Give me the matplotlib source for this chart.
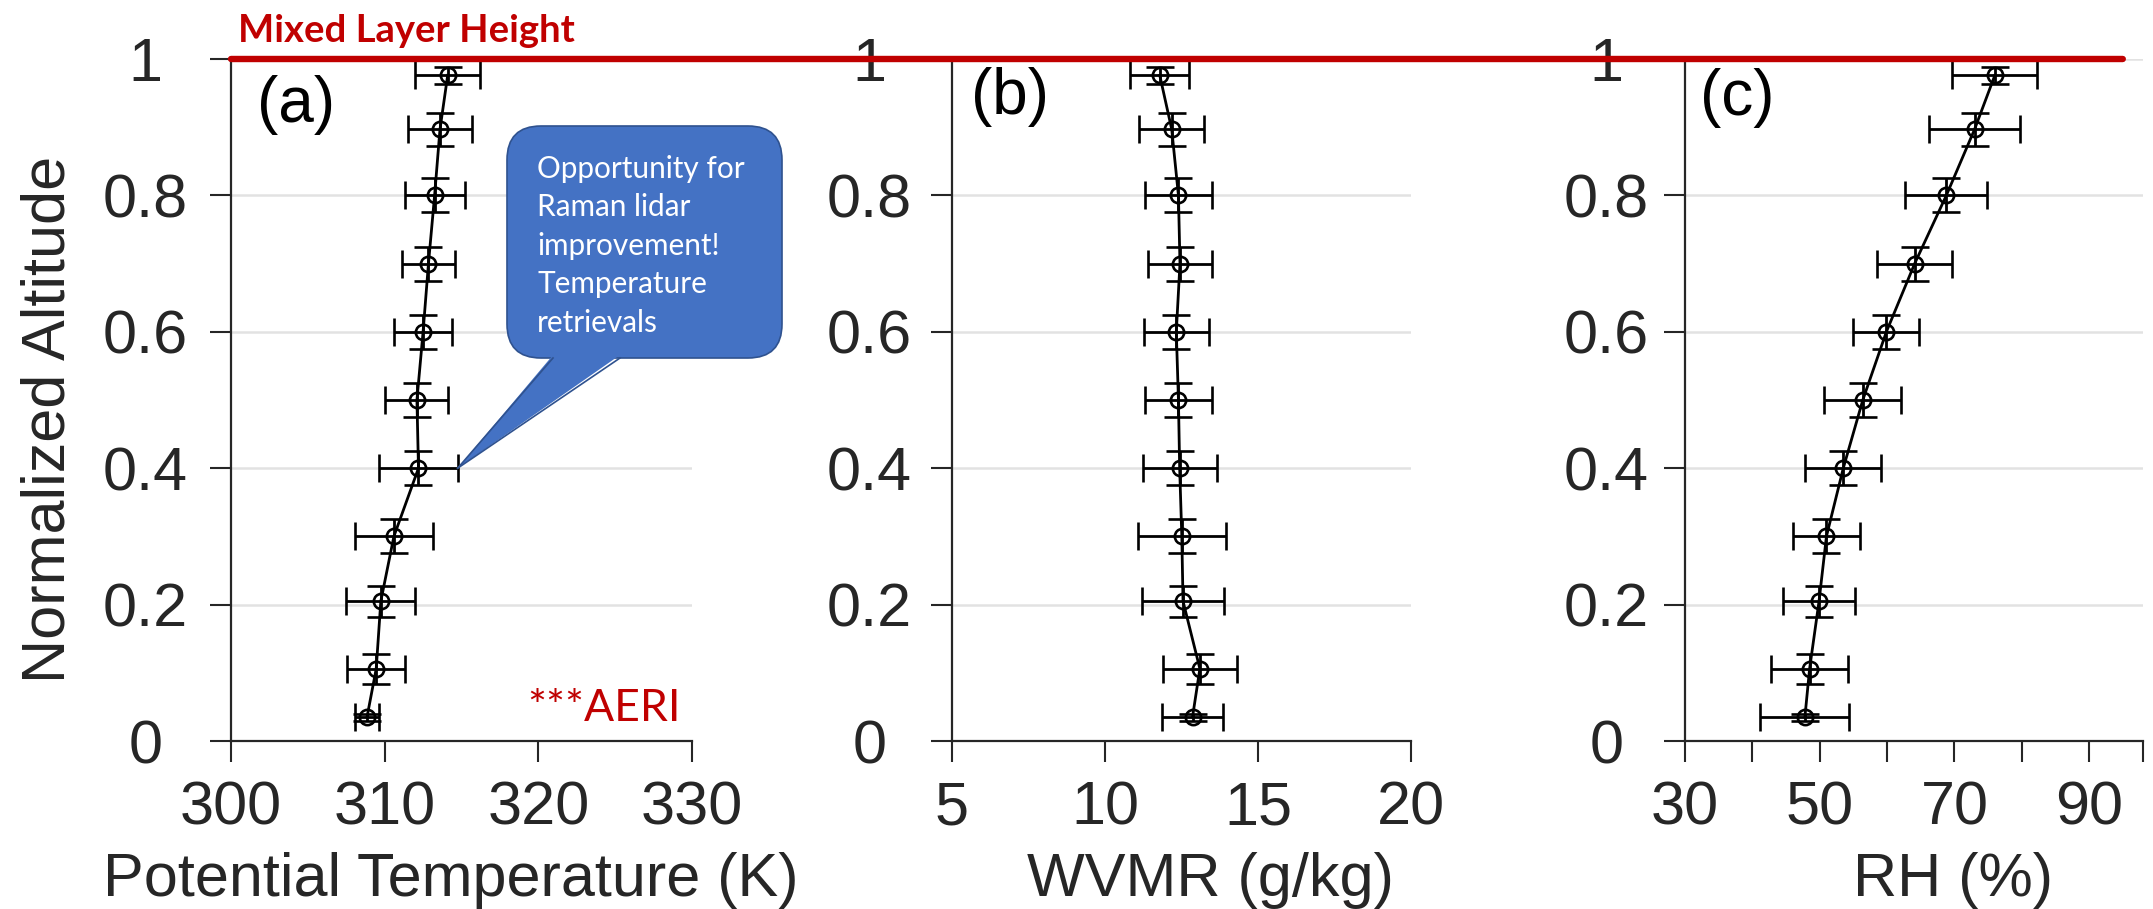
import matplotlib
matplotlib.use("Agg")
import matplotlib.pyplot as plt
from matplotlib.patches import FancyBboxPatch, Polygon, ConnectionPatch
from matplotlib.lines import Line2D
from matplotlib.transforms import IdentityTransform

# Data, bottom to top
altitude = [0.035, 0.106, 0.205, 0.30, 0.40, 0.50, 0.60, 0.70, 0.80, 0.897, 0.976]
alt_err = [0.005, 0.022, 0.023, 0.025, 0.025, 0.025, 0.025, 0.025, 0.025, 0.024, 0.013]

theta = [308.85, 309.45, 309.75, 310.6, 312.2, 312.1, 312.5, 312.85, 313.25, 313.6, 314.1]
theta_err = [0.8, 1.9, 2.25, 2.55, 2.55, 2.05, 1.9, 1.7, 1.95, 2.1, 2.1]

wvmr = [12.86, 13.1, 12.55, 12.51, 12.44, 12.4, 12.33, 12.45, 12.4, 12.18, 11.79]
wvmr_err = [1.0, 1.22, 1.35, 1.43, 1.21, 1.1, 1.06, 1.04, 1.1, 1.07, 0.97]

rh = [47.8, 48.5, 49.9, 51.0, 53.5, 56.4, 59.9, 64.1, 68.8, 73.0, 76.0]
rh_err = [6.6, 5.7, 5.3, 5.0, 5.65, 5.7, 4.9, 5.55, 6.1, 6.75, 6.3]

yticks = [0, 0.2, 0.4, 0.6, 0.8, 1.0]
yticklabels = ['0', '0.2', '0.4', '0.6', '0.8', '1']

callout_lines = ['Opportunity for', 'Raman lidar', 'improvement!', 'Temperature', 'retrievals']

W, H = 2153, 909
RED = '#C00000'
DARK = '#262626'

plt.rcParams['font.family'] = ['Liberation Sans', 'DejaVu Sans']

fig = plt.figure(figsize=(W / 100, H / 100), dpi=100)

panels = [
    dict(x=theta, xerr=theta_err, xlim=(300, 330), xticks=[300, 310, 320, 330],
         xticklabels=['300', '310', '320', '330'], xlabel='Potential Temperature (K)',
         left=231, right=692, tag='(a)', tag_pos=(257, 75), label_x=451, ypad=65),
    dict(x=wvmr, xerr=wvmr_err, xlim=(5, 20), xticks=[5, 10, 15, 20],
         xticklabels=['5', '10', '15', '20'], xlabel='WVMR (g/kg)',
         left=952, right=1411, tag='(b)', tag_pos=(971, 67), label_x=1210, ypad=62),
    dict(x=rh, xerr=rh_err, xlim=(30, 98), xticks=[30, 40, 50, 60, 70, 80, 90, 98],
         xticklabels=['30', '', '50', '', '70', '', '90', ''], xlabel='RH (%)',
         left=1685, right=2143, tag='(c)', tag_pos=(1700, 68), label_x=1953, ypad=58),
]

top, bottom = 59, 741
axes = []
for p in panels:
    w = p['right'] - p['left']
    ax = fig.add_axes([p['left'] / W, (H - bottom) / H, w / W, (bottom - top) / H])
    ax.errorbar(p['x'], altitude, xerr=p['xerr'], yerr=alt_err, fmt='-o', color='black',
                mfc='none', ms=11, mew=1.9, lw=2.0, elinewidth=2.0, capsize=10,
                capthick=2.2, clip_on=False, zorder=3)
    ax.set_xlim(*p['xlim'])
    ax.set_ylim(0, 1)
    ax.set_xticks(p['xticks'])
    ax.set_xticklabels(p['xticklabels'])
    ax.set_yticks(yticks)
    ax.set_yticklabels(yticklabels)
    ax.yaxis.grid(True, color='#e2e2e2', lw=1.8)
    ax.set_axisbelow(True)
    for s in ['top', 'right']:
        ax.spines[s].set_visible(False)
    for s in ['left', 'bottom']:
        ax.spines[s].set_color(DARK)
        ax.spines[s].set_linewidth(1.6)
    ax.tick_params(direction='out', length=15, width=1.5, color=DARK,
                   labelcolor=DARK, labelsize=44)
    ax.tick_params(axis='x', pad=13.5)
    ax.tick_params(axis='y', pad=p['ypad'] * 0.72)
    plt.setp(ax.get_yticklabels(), ha='center')
    ax.set_xlabel(p['xlabel'], fontsize=44, color=DARK)
    ax.xaxis.set_label_coords((p['label_x'] - p['left']) / w, -(852 - bottom) / (bottom - top))
    fig.text(p['tag_pos'][0], H - p['tag_pos'][1], p['tag'], fontsize=46, color='black',
             ha='left', va='top', transform=IdentityTransform())
    axes.append(ax)

ax_a, ax_b, ax_c = axes

fig.text(49, H - 419, 'Normalized Altitude', fontsize=44, color=DARK, rotation=90,
         ha='center', va='center', transform=IdentityTransform())

# mixed layer height line
con = ConnectionPatch(xyA=(300, 1), coordsA=ax_a.transData, xyB=(95, 1), coordsB=ax_c.transData,
                      color=RED, lw=4.6, zorder=5)
fig.add_artist(con)
fig.text(238, H - 42, 'Mixed Layer Height', fontsize=27.5, fontweight='bold', color=RED,
         family='Lato', ha='left', va='baseline', transform=IdentityTransform())

# AERI note
ax_a.text(0.976, 0.029, '***AERI', transform=ax_a.transAxes, fontsize=32, color=RED,
          family='Lato', ha='right', va='baseline')

# callout bubble
bx0, bx1, by_top, by_bot = 507, 782, 126, 358
fill, edge = '#4472C4', '#2F528F'
bubble = FancyBboxPatch((bx0, H - by_bot), bx1 - bx0, by_bot - by_top,
                        boxstyle='round,pad=0,rounding_size=34', transform=IdentityTransform(),
                        facecolor=fill, edgecolor=edge, lw=1.2, zorder=6)
fig.add_artist(bubble)
tip = ax_a.transData.transform((theta[4] + theta_err[4], altitude[4]))
base_l, base_r = (553, H - by_bot), (620, H - by_bot)
pointer = Polygon([(base_l[0], base_l[1] + 3), tuple(tip), (base_r[0], base_r[1] + 3)],
                  closed=True, facecolor=fill, edgecolor='none', transform=IdentityTransform(),
                  zorder=7)
fig.add_artist(pointer)
for b in (base_l, base_r):
    fig.add_artist(Line2D([b[0], tip[0]], [b[1], tip[1]], color=edge, lw=1.2,
                          transform=IdentityTransform(), zorder=7))
for i, line in enumerate(callout_lines):
    fig.text(537, H - (178 + 38.5 * i), line, fontsize=21.4, color='white', family='Lato',
             ha='left', va='baseline', transform=IdentityTransform(), zorder=8)

fig.savefig('out.png', dpi=100)
